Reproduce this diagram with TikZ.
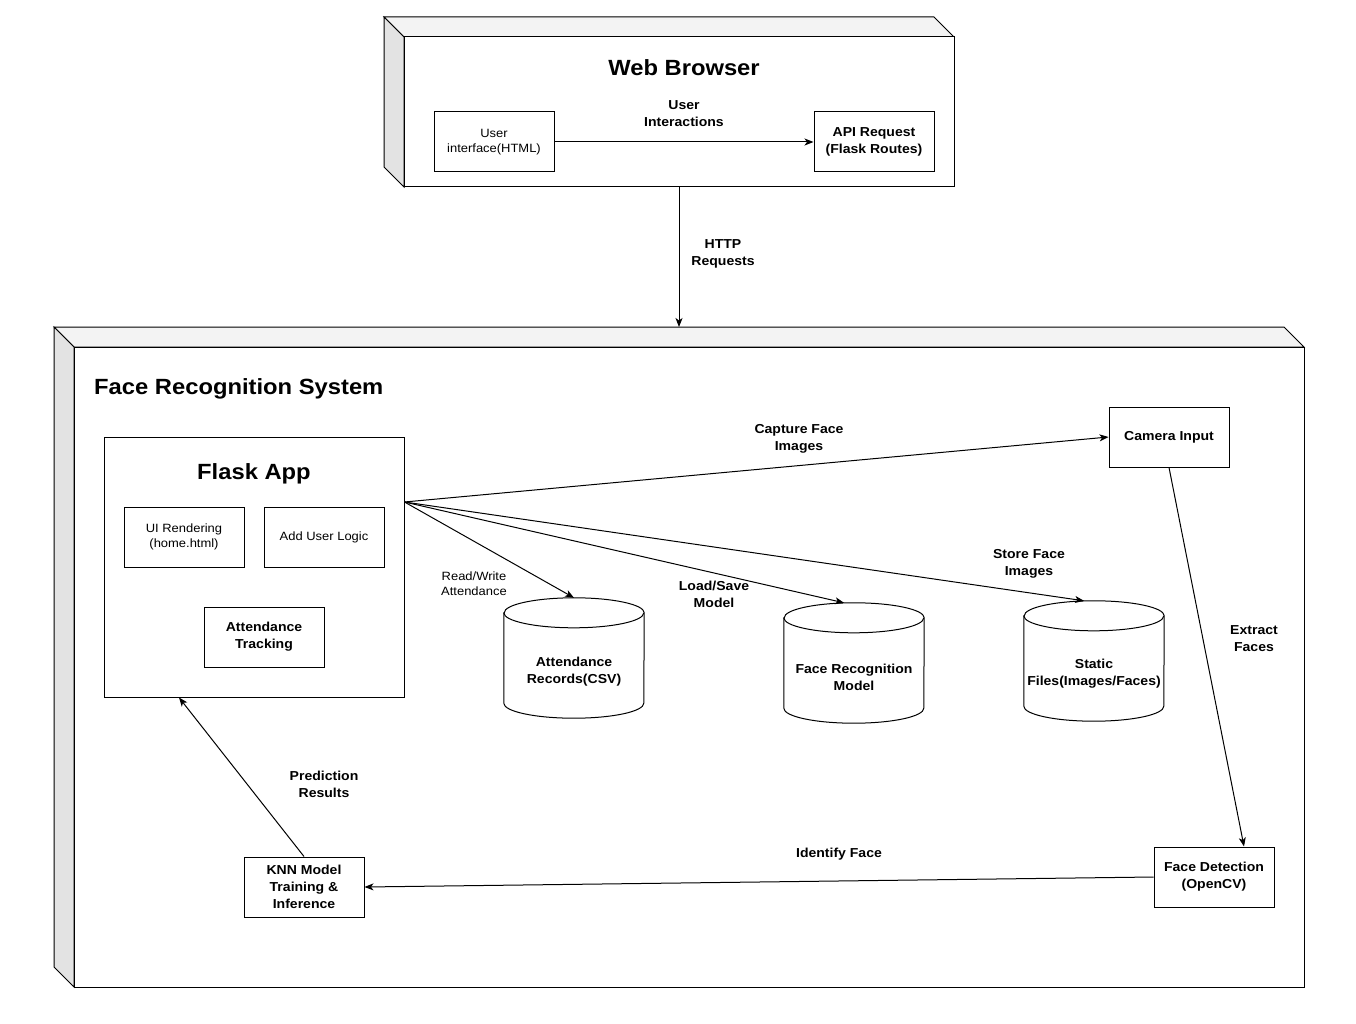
\documentclass[tikz,border=0pt]{standalone}
\usepackage{fontspec}
\setmainfont{Liberation Sans}[FakeStretch=1.08]
\usetikzlibrary{arrows.meta}
\definecolor{topface}{HTML}{F3F3F3}
\definecolor{sideface}{HTML}{E3E3E3}
\tikzset{
  box/.style={draw, fill=white, line width=1pt, inner sep=0pt, align=center,
    minimum width=120pt, minimum height=60pt},
  boldtxt/.style={font=\fontsize{13}{17}\selectfont\bfseries},
  normtxt/.style={font=\fontsize{12}{15}\selectfont},
  lbl/.style={align=center, inner sep=0pt, font=\fontsize{13}{17}\selectfont\bfseries},
  smalllbl/.style={align=center, inner sep=0pt, font=\fontsize{12}{15}\selectfont},
  title/.style={inner sep=0pt, font=\fontsize{22}{26}\selectfont\bfseries},
  cylbox/.style={inner sep=0pt, align=center, minimum width=140pt, minimum height=120pt,
    font=\fontsize{13}{17}\selectfont\bfseries},
  arr/.style={line width=1pt, -{Stealth[length=9pt,width=7pt,inset=2.5pt]}},
  frontface/.style={draw, fill=white, line width=1pt, inner sep=0pt}
}
\begin{document}
\begin{tikzpicture}[x=1pt,y=-1pt]
\useasboundingbox (0,0) rectangle (1356,1024);
\fill[white] (0,0) rectangle (1356,1024);

% ---------- Web Browser 3D box ----------
\filldraw[fill=topface, line width=1pt] (384,17) -- (934,17) -- (954,37) -- (404,37) -- cycle;
\filldraw[fill=sideface, line width=1pt] (384,17) -- (404,37) -- (404,187) -- (384,167) -- cycle;
\node[frontface, minimum width=550pt, minimum height=150pt] (wb) at (679,112) {};
\node[title] (wbt) at (684,68) {Web Browser};
\node[box, normtxt] (ui) at (494,142) {User\\interface(HTML)};
\node[box, boldtxt] (api) at (874,142) {API Request\\(Flask Routes)};
\draw[arr] (ui) -- (api);
\node[lbl] (l1) at (684,114) {User\\Interactions};

% ---------- Face Recognition System 3D box ----------
\filldraw[fill=topface, line width=1pt] (54,327) -- (1284,327) -- (1304,347) -- (74,347) -- cycle;
\filldraw[fill=sideface, line width=1pt] (54,327) -- (74,347) -- (74,987) -- (54,967) -- cycle;
\node[frontface, minimum width=1230pt, minimum height=640pt] (frs) at (689,667) {};
\coordinate (frsback) at (54,327);
\node[title, anchor=west] (frst) at (94,389) {Face Recognition System};

\draw[arr] (wb.south) -- (wb.south |- frsback);
\node[lbl] (l2) at (723,254) {HTTP\\Requests};

% ---------- Flask App ----------
\node[frontface, minimum width=300pt, minimum height=260pt] (flask) at (254,567) {};
\node[title] (flt) at (254,474) {Flask App};
\node[box, normtxt] (uir) at (184,537) {UI Rendering\\(home.html)};
\node[box, normtxt] (aul) at (324,537) {Add User Logic};
\node[box, boldtxt] (att) at (264,637) {Attendance\\Tracking};

% ---------- other components ----------
\node[box, boldtxt] (cam) at (1169,437) {Camera Input};
\node[box, boldtxt] (fd) at (1214,877) {Face Detection\\(OpenCV)};
\node[box, boldtxt] (knn) at (304,887) {KNN Model\\Training \&\\Inference};

% ---------- cylinders ----------
\node[cylbox] (csv) at (574,658) {};
\node[cylbox] (frm) at (854,663) {};
\node[cylbox] (stf) at (1094,661) {};
\foreach \c in {csv,frm,stf}{
  \draw[line width=1pt, fill=white]
    ([yshift=-15pt]\c.north west) -- ([yshift=15pt]\c.south west)
    arc[start angle=180, end angle=360, x radius=70pt, y radius=15pt]
    -- ([yshift=-15pt]\c.north east)
    arc[start angle=0, end angle=180, x radius=70pt, y radius=15pt] -- cycle;
  \draw[line width=1pt] ([yshift=-15pt]\c.north west)
    arc[start angle=180, end angle=360, x radius=70pt, y radius=15pt];
}
\node[cylbox, minimum height=0pt] (csvt) at (574,672) {Attendance\\Records(CSV)};
\node[cylbox, minimum height=0pt] (frmt) at (854,677) {Face Recognition\\Model};
\node[cylbox, minimum height=0pt] (stft) at (1094,674) {Static\\Files(Images/Faces)};

% ---------- connectors ----------
\coordinate (fout) at ([yshift=65pt]flask.east);
\draw[arr] (fout) -- (cam.west);
\draw[arr] (fout) -- (csv.north);
\draw[arr] (fout) -- ([xshift=-10pt]frm.north);
\draw[arr] (fout) -- ([xshift=-10pt]stf.north);
\draw[arr] (cam.south) -- ([xshift=30pt]fd.north);
\draw[arr] (fd.west) -- (knn.east);
\draw[arr] (knn.north) -- ([xshift=-75pt]flask.south);

\node[lbl] (l3) at (799,439) {Capture Face\\Images};
\node[smalllbl] (l4) at (474,584) {Read/Write\\Attendance};
\node[lbl] (l5) at (714,594) {Load/Save\\Model};
\node[lbl] (l6) at (1029,564) {Store Face\\Images};
\node[lbl] (l7) at (1254,639) {Extract\\Faces};
\node[lbl] (l8) at (839,854) {Identify Face};
\node[lbl] (l9) at (324,784) {Prediction\\Results};
\end{tikzpicture}
\end{document}
